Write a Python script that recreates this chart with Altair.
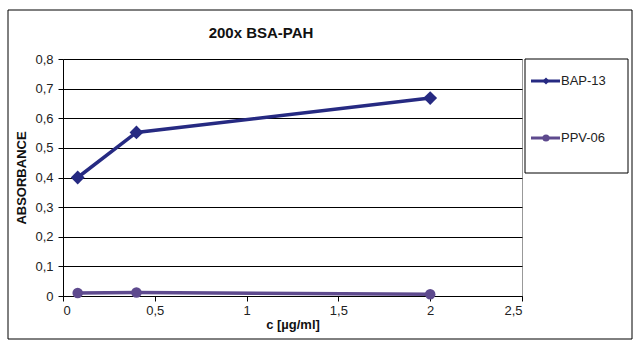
import altair as alt
import pandas as pd

# data
conc = [0.08, 0.4, 2.0]
bap13 = [0.40, 0.552, 0.668]
ppv06 = [0.01, 0.012, 0.006]
series_names = ["BAP-13", "PPV-06"]
series_colors = ["#262A82", "#5E4A8E"]
series_shapes = ["diamond", "circle"]
series_sizes = [190, 110]
y_ticks = [0, 0.1, 0.2, 0.3, 0.4, 0.5, 0.6, 0.7, 0.8]
x_ticks = [0, 0.5, 1, 1.5, 2, 2.5]
title_text = "200x BSA-PAH"
x_title = "c [µg/ml]"
y_title = "ABSORBANCE"

rows = []
for name, vals in zip(series_names, [bap13, ppv06]):
    for c, v in zip(conc, vals):
        rows.append({"series": name, "c": c, "abs": v})
df = pd.DataFrame(rows)
leg_df = pd.DataFrame({"series": series_names, "idx": list(range(len(series_names)))})
title_df = pd.DataFrame({"t": [title_text]})

FONT = "Liberation Sans"
W, H = 459, 237

color_scale = alt.Scale(domain=series_names, range=series_colors)
shape_scale = alt.Scale(domain=series_names, range=series_shapes)
size_scale = alt.Scale(domain=series_names, range=series_sizes)

x_enc = alt.X("c:Q", title=x_title,
              scale=alt.Scale(domain=[0, 2.5], nice=False),
              axis=alt.Axis(values=x_ticks, format="~g",
                            labelExpr="replace(datum.label, '.', ',')",
                            labelOverlap=False, tickCount=6,
                            grid=False, domainColor="black", tickColor="black",
                            tickSize=5, labelFontSize=13, labelColor="#222",
                            labelFont=FONT, titleFont=FONT, titleFontSize=13,
                            titleFontWeight="bold", titleColor="#111",
                            labelPadding=3, titlePadding=1))
y_enc = alt.Y("abs:Q", title=y_title,
              scale=alt.Scale(domain=[0, 0.8], nice=False),
              axis=alt.Axis(values=y_ticks, tickCount=9,
                            format=".1~f",
                            labelExpr="replace(datum.label, '.', ',')",
                            labelOverlap=False,
                            grid=True, gridColor="black", gridWidth=1,
                            domainColor="black", tickColor="black", tickSize=5,
                            labelFontSize=13, labelColor="#222", labelFont=FONT,
                            titleFont=FONT, titleFontSize=13, titleFontWeight="bold",
                            titleColor="#111", labelPadding=5, titlePadding=6))

lines = alt.Chart(df).mark_line(strokeWidth=3.5).encode(
    x=x_enc, y=y_enc,
    color=alt.Color("series:N", scale=color_scale, legend=None),
    detail="series:N",
)
points = alt.Chart(df).mark_point(filled=True, opacity=1).encode(
    x=x_enc, y=y_enc,
    color=alt.Color("series:N", scale=color_scale, legend=None),
    shape=alt.Shape("series:N", scale=shape_scale, legend=None),
    size=alt.Size("series:N", scale=size_scale, legend=None),
)

# title as text
title_mark = alt.Chart(title_df).mark_text(
    font=FONT, fontSize=15, fontWeight="bold", color="#111",
    align="center", baseline="middle", clip=False,
).encode(x=alt.value(198), y=alt.value(-26), text="t:N")

# outer frame
frame = alt.Chart(title_df).mark_rect(fill=None, stroke="black", strokeWidth=1, clip=False).encode(
    x=alt.value(-55), x2=alt.value(569), y=alt.value(-49), y2=alt.value(280)
)
# legend box
legbox = alt.Chart(title_df).mark_rect(fill=None, stroke="black", strokeWidth=1, clip=False).encode(
    x=alt.value(462), x2=alt.value(565), y=alt.value(0), y2=alt.value(114)
)
leg_y = alt.Y("idx:Q", scale=alt.Scale(domain=[0, 1], range=[22, 79], nice=False, zero=False),
              axis=None)
leg_rule = alt.Chart(leg_df).mark_rule(strokeWidth=3, clip=False).encode(
    x=alt.value(468), x2=alt.value(497), y=leg_y,
    color=alt.Color("series:N", scale=color_scale, legend=None),
)
leg_pt = alt.Chart(leg_df).mark_point(filled=True, opacity=1, size=50, clip=False).encode(
    x=alt.value(483), y=leg_y,
    color=alt.Color("series:N", scale=color_scale, legend=None),
    shape=alt.Shape("series:N", scale=shape_scale, legend=None),
)
leg_txt = alt.Chart(leg_df).mark_text(align="left", baseline="middle", font=FONT,
                                      fontSize=13, color="#222", clip=False).encode(
    x=alt.value(498), y=leg_y, text="series:N",
)

legend_layer = alt.layer(frame, legbox, title_mark, leg_rule, leg_pt, leg_txt)

chart = alt.layer(
    alt.layer(lines, points),
    legend_layer,
).resolve_scale(y="independent").properties(
    width=W, height=H,
    autosize=alt.AutoSizeParams(type="none"),
    padding={"left": 63, "top": 59, "right": 118, "bottom": 57},
    background="white",
).configure_view(stroke="#999", strokeWidth=1)

chart.save("out.html", embed_options={"renderer": "svg", "actions": False})
